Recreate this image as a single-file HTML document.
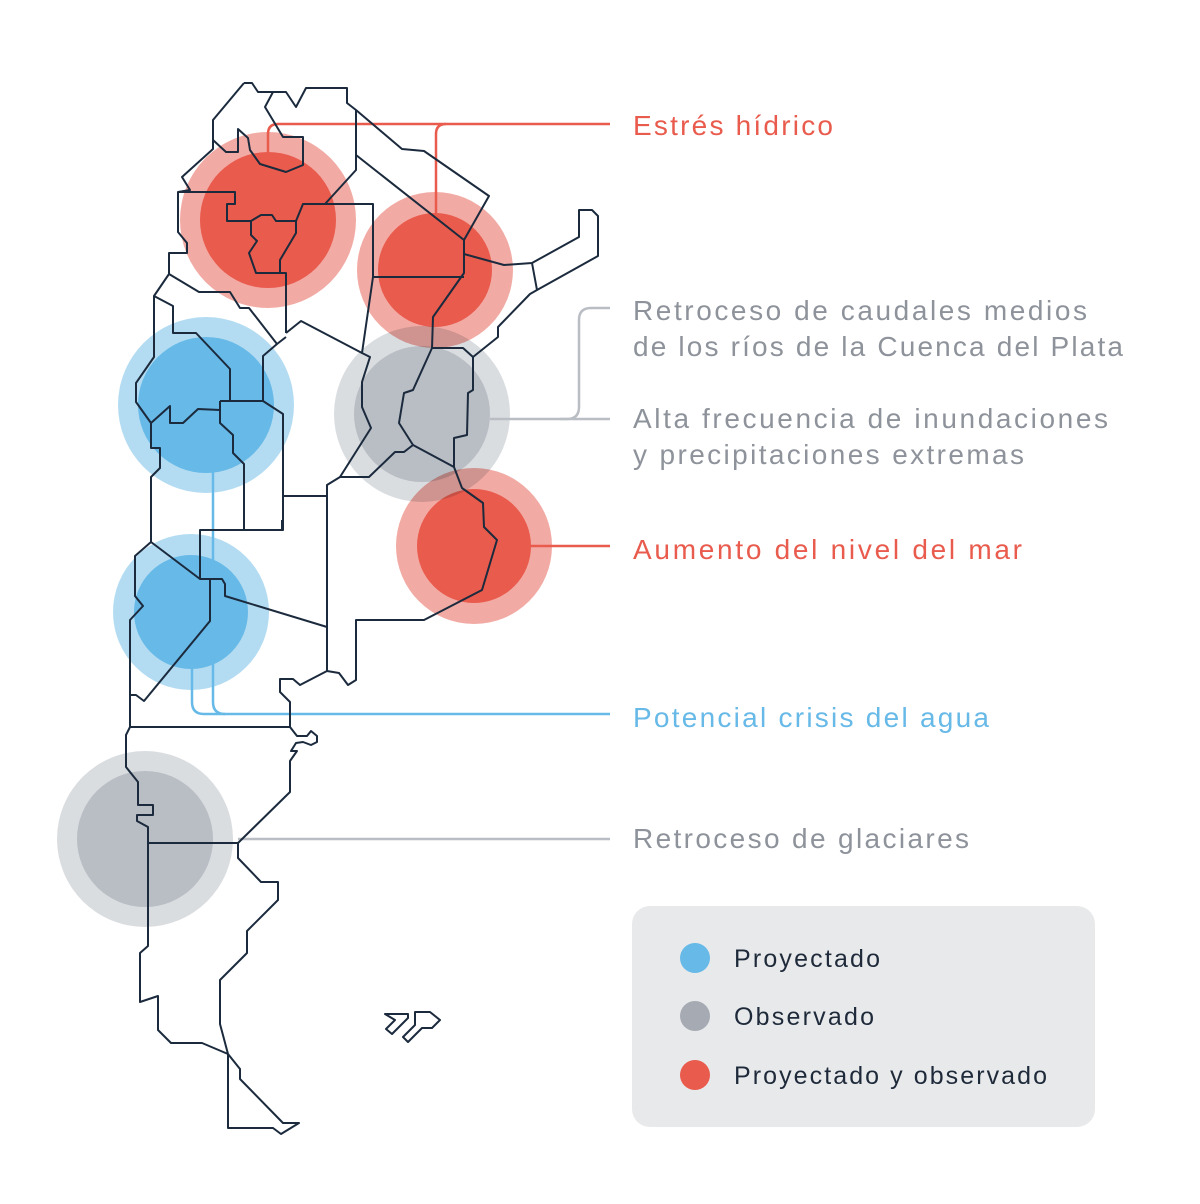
<!DOCTYPE html>
<html><head><meta charset="utf-8"><style>
html,body{margin:0;padding:0;background:#fff}
svg{display:block}
text{font-family:"Liberation Sans",sans-serif}
</style></head><body>
<svg width="1200" height="1204" viewBox="0 0 1200 1204" xmlns="http://www.w3.org/2000/svg">
<g style="isolation:isolate">
<g style="mix-blend-mode:multiply"><circle cx="268" cy="220" r="88" fill="#f2aba4"/><circle cx="268" cy="220" r="68" fill="#e95b4d"/></g>
<g style="mix-blend-mode:multiply"><circle cx="435" cy="270" r="78" fill="#f2aba4"/><circle cx="435" cy="270" r="57" fill="#e95b4d"/></g>
<g style="mix-blend-mode:multiply"><circle cx="422" cy="414" r="88" fill="#dadde0"/><circle cx="422" cy="414" r="68" fill="#b9bdc4"/></g>
<g style="mix-blend-mode:multiply"><circle cx="474" cy="546" r="78" fill="#f2aba4"/><circle cx="474" cy="546" r="57" fill="#e95b4d"/></g>
<g style="mix-blend-mode:multiply"><circle cx="206" cy="405" r="88" fill="#b3dcf2"/><circle cx="206" cy="405" r="68" fill="#67b9e7"/></g>
<g style="mix-blend-mode:multiply"><circle cx="191" cy="612" r="78" fill="#b3dcf2"/><circle cx="191" cy="612" r="57" fill="#67b9e7"/></g>
<g style="mix-blend-mode:multiply"><circle cx="145" cy="839" r="88" fill="#dadde0"/><circle cx="145" cy="839" r="68" fill="#b9bdc4"/></g>
</g>

<g fill="none" stroke-width="2.5">
<path d="M610 124 H278 Q268 124 268 134 V152" stroke="#e95b4d"/>
<path d="M446 124 Q436 124 436 134 V216" stroke="#e95b4d"/>
<path d="M530 546 H610" stroke="#e95b4d"/>
<path d="M610 308 H591 Q579 308 579 320 V407 Q579 419 567 419 H490" stroke="#b9bdc4"/>
<path d="M610 419 H560" stroke="#b9bdc4"/>
<path d="M238 839 H610" stroke="#b9bdc4"/>
<path d="M213 470 V702 Q213 714 225 714 H610" stroke="#67b9e7"/>
<path d="M192 668 V702 Q192 714 204 714 H225" stroke="#67b9e7"/>
</g>

<g fill="none" stroke="#1b2a3d" stroke-width="2" stroke-linejoin="round">
<path d="M244 83 L252 83 L258 92 L286 92 L296 107 L306 88 L347 88 L347 103 L356 110 L402 149 L424 151 L489 196 L464 240 L464 254 L504 265 L532 263 L579 237 L579 210 L592 210 L598 216 L598 256 L537 290 L532 263"/>
<path d="M537 290 L530 294 L498 327 L498 337 L473 357 L463 348 L432 348"/>
<path d="M473 357 L473 390 L468 393 L467 435 L454 438 L454 467 L462 488 L483 503 L484 527 L497 540 L482 590 L424 620 L356 620 L356 680 L348 685 L339 673 L327 671 L300 685 L293 679 L280 679 L280 692 L290 702 L290 727"/>
<path d="M290 727 L297 736 L307 736 L311 731 L317 736 L317 742 L311 745 L303 742 L296 743 L291 751 L297 751 L290 761 L290 792 L238 843 L238 858 L261 882 L278 882 L278 900 L247 931 L247 953 L220 980 L220 1024 L228 1054 L240 1069 L240 1079 L283 1123 L299 1123 L281 1134 L273 1128 L228 1128 L228 1054"/>
<path d="M228 1054 L202 1043 L171 1043 L158 1030 L158 996 L140 1002 L140 953 L148 946 L148 827 L137 821 L137 815 L153 815 L153 805 L138 805 L138 782 L126 767 L126 735 L130 727 L290 727"/>
<path d="M148 843 L238 843"/>
<path d="M244 83 L213 120 L213 149 L182 177 L190 190 L178 192 L178 232 L187 243 L187 253 L169 253 L169 274 L154 296 L154 357 L136 383 L136 402 L151 423 L151 448 L160 448 L160 468 L151 477 L151 542 L135 556 L135 596 L143 606 L130 620 L130 727"/>
<path d="M213 140 L226 152 L238 152 L238 129 L248 138 L250 150 L260 164 L286 172 L303 165 L303 137 L283 137 L265 107 L273 92"/>
<path d="M178 192 L235 192 L235 204 L227 204 L227 221 L251 221 L261 215 L272 215 L276 221 L296 221 L296 233 L280 260 L280 273"/>
<path d="M251 221 L251 235 L257 241 L249 253 L256 273 L286 273 L286 333"/>
<path d="M296 221 L303 204 L373 204 L373 277"/>
<path d="M356 110 L356 170 L325 204"/>
<path d="M356 155 L464 240 L464 273 L433 317 L432 348"/>
<path d="M373 277 L464 277"/>
<path d="M373 277 L362 353 L370 357 L362 382 L362 407 L371 428 L340 477 L369 477 L395 452 L404 452 L413 445 L454 467"/>
<path d="M432 348 L413 390 L404 393 L399 423 L413 445"/>
<path d="M286 333 L301 321 L362 353"/>
<path d="M169 274 L199 292 L230 292 L240 308 L249 308 L277 344 L286 337"/>
<path d="M154 296 L173 306 L173 333 L196 333 L230 369 L230 401"/>
<path d="M220 401 L263 401"/>
<path d="M151 423 L170 406 L170 423 L183 423 L198 409 L220 410 L220 401"/>
<path d="M277 344 L263 356 L263 401 L283 414 L283 530 L244 530 L244 520"/>
<path d="M220 410 L220 423 L233 435 L233 453 L244 464 L244 530"/>
<path d="M283 496 L327 496 L327 485 L340 477"/>
<path d="M327 485 L327 671"/>
<path d="M151 542 L200 579 L200 530 L282 530 L282 520"/>
<path d="M130 695 L136 695 L144 701 L210 621 L210 579 L200 579"/>
<path d="M210 579 L222 579 L225 584 L225 596 L327 627"/>
<path d="M385 1014 L408 1014 L408 1018 L392 1034 L386 1029 L395 1020 Z"/>
<path d="M415 1012 L430 1012 L440 1020 L432 1028 L422 1028 L408 1042 L403 1037 L415 1025 Z"/>
</g>

<g font-size="28">
<text x="633" y="135" fill="#e95b4d" textLength="200">Estrés hídrico</text>
<text x="633" y="320" fill="#8e939b" textLength="454">Retroceso de caudales medios</text>
<text x="633" y="356" fill="#8e939b" textLength="490">de los ríos de la Cuenca del Plata</text>
<text x="633" y="428" fill="#8e939b" textLength="475">Alta frecuencia de inundaciones</text>
<text x="633" y="464" fill="#8e939b" textLength="391">y precipitaciones extremas</text>
<text x="633" y="559" fill="#e95b4d" textLength="389">Aumento del nivel del mar</text>
<text x="633" y="727" fill="#67b9e7" textLength="356">Potencial crisis del agua</text>
<text x="633" y="848" fill="#8e939b" textLength="336">Retroceso de glaciares</text>
</g>

<rect x="632" y="906" width="463" height="221" rx="18" fill="#e8e9eb"/>
<circle cx="695" cy="958" r="15" fill="#67b9e7"/>
<circle cx="695" cy="1016" r="15" fill="#a6aab2"/>
<circle cx="695" cy="1075" r="15" fill="#e95b4d"/>
<g font-size="25" fill="#1e2a3a">
<text x="734" y="967" textLength="146">Proyectado</text>
<text x="734" y="1025" textLength="140">Observado</text>
<text x="734" y="1084" textLength="313">Proyectado y observado</text>
</g>
</svg>
</body></html>
